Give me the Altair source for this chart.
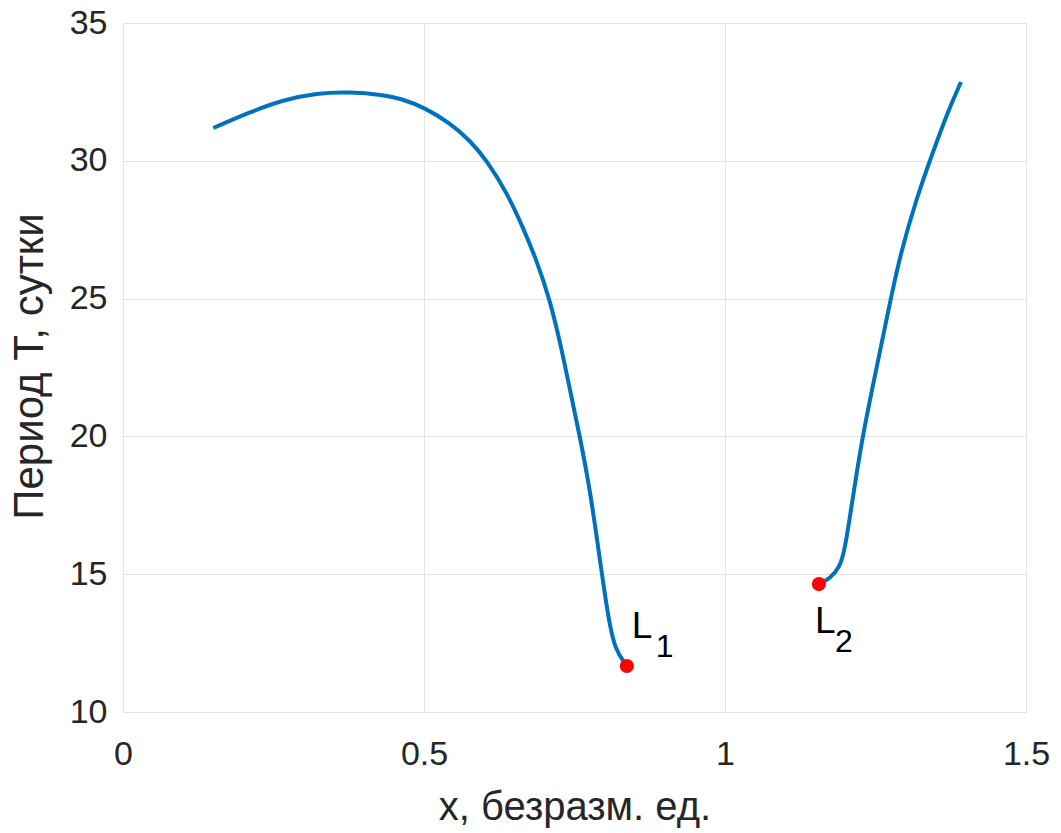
import altair as alt
import pandas as pd

# Left branch (from x ~0.15 down to L1)
left_x = [0.150, 0.211, 0.266, 0.322, 0.377, 0.432, 0.462, 0.502, 0.543, 0.576,
          0.605, 0.638, 0.664, 0.686, 0.709, 0.729, 0.739, 0.759, 0.776, 0.796,
          0.806, 0.817, 0.837]
left_y = [31.19, 31.77, 32.21, 32.46, 32.50, 32.39, 32.26, 31.92, 31.37, 30.75,
          29.99, 28.83, 27.60, 26.45, 24.98, 23.13, 22.05, 19.98, 18.06, 14.93,
          13.45, 12.25, 11.67]
# Right branch (from L2 up)
right_x = [1.156, 1.174, 1.191, 1.199, 1.211, 1.228, 1.251, 1.274, 1.291, 1.319,
           1.341, 1.369, 1.392]
right_y = [14.64, 14.83, 15.26, 15.88, 17.58, 19.98, 22.40, 24.85, 26.60, 28.69,
           30.05, 31.73, 32.86]

point_names = ["L1", "L2"]
point_x = [0.837, 1.156]
point_y = [11.67, 14.64]

x_ticks = [0, 0.5, 1, 1.5]
y_ticks = [10, 15, 20, 25, 30, 35]

FONT = "Liberation Sans"
TXT = "#262626"

curve = pd.DataFrame({
    "x": left_x + right_x,
    "y": left_y + right_y,
    "branch": ["left"] * len(left_x) + ["right"] * len(right_x),
    "order": list(range(len(left_x))) + list(range(len(right_x))),
})
pts = pd.DataFrame({"name": point_names, "x": point_x, "y": point_y})

xscale = alt.Scale(domain=[0, 1.5], nice=False, zero=False)
yscale = alt.Scale(domain=[10, 35], nice=False, zero=False)

xaxis = alt.Axis(values=x_ticks, format="~g", title="x, безразм. ед.",
                 labelFontSize=34, titleFontSize=40, labelFont=FONT, titleFont=FONT,
                 labelColor=TXT, titleColor=TXT, titleFontWeight="normal",
                 grid=True, gridColor="#e3e3e3", domain=False, ticks=False,
                 labelFlush=False, labelPadding=25,
                 titleBaseline="alphabetic", titleY=107)
yaxis = alt.Axis(values=y_ticks, title="Период T, сутки",
                 labelFontSize=34, titleFontSize=42, labelFont=FONT, titleFont=FONT,
                 labelColor=TXT, titleColor=TXT, titleFontWeight="normal",
                 grid=True, gridColor="#e3e3e3", domain=False, ticks=False,
                 labelFlush=False, labelPadding=16,
                 titleBaseline="alphabetic", titleX=-81, titleY=343, titleAlign="center")

line = alt.Chart(curve).mark_line(color="#0072BD", strokeWidth=4,
                                  interpolate="basis").encode(
    x=alt.X("x:Q", scale=xscale, axis=xaxis),
    y=alt.Y("y:Q", scale=yscale, axis=yaxis),
    detail="branch:N",
    order="order:Q",
)

dots = alt.Chart(pts).mark_circle(color="#FF0000", opacity=1, size=200).encode(
    x=alt.X("x:Q", scale=xscale),
    y=alt.Y("y:Q", scale=yscale),
)

def label(name, main_dx, main_dy, sub_dx, sub_dy):
    d = pts[pts["name"] == name]
    base = alt.Chart(d)
    t1 = base.mark_text(text="L", font=FONT, fontSize=37, color="#000000",
                        align="left", baseline="alphabetic", dx=main_dx, dy=main_dy).encode(
        x=alt.X("x:Q", scale=xscale), y=alt.Y("y:Q", scale=yscale))
    t2 = base.mark_text(text=name[1], font=FONT, fontSize=32, color="#000000",
                        align="left", baseline="alphabetic", dx=sub_dx, dy=sub_dy).encode(
        x=alt.X("x:Q", scale=xscale), y=alt.Y("y:Q", scale=yscale))
    return t1 + t2

chart = alt.layer(
    line, dots,
    label("L1", 5, -28, 29, -9),
    label("L2", -4, 49, 16, 68),
).properties(
    width=903, height=689,
    autosize=alt.AutoSizeParams(type="none"),
    padding={"left": 123, "top": 23, "right": 35, "bottom": 121},
).configure_view(stroke="#262626", strokeWidth=1.2).configure(background="white")

chart.save("out.html", embed_options={"renderer": "svg", "actions": False})
